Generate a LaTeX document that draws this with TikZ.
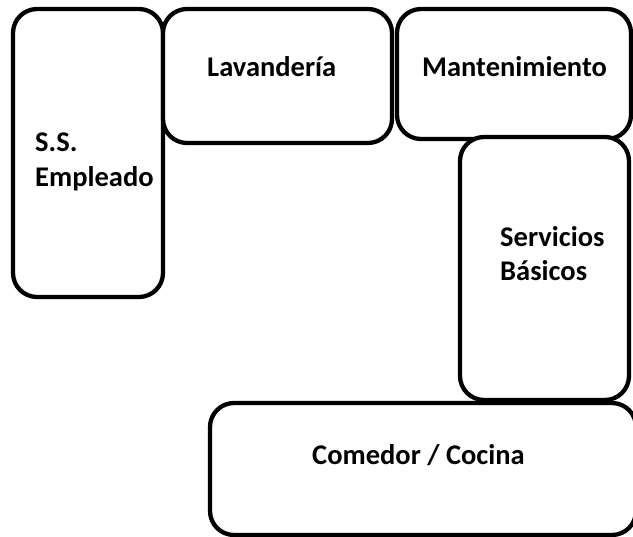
\documentclass[tikz,border=0pt]{standalone}
\usepackage{fontspec}
\setmainfont{Carlito}
\begin{document}
\begin{tikzpicture}[x=1pt,y=-1pt,
  room/.style={draw=black, line width=4.3pt, rounded corners=24pt, fill=white, inner sep=0pt},
  lbl/.style={font=\bfseries\fontsize{28.5}{34}\selectfont, inner sep=0pt, anchor=base west}]
\useasboundingbox (0,0) rectangle (633,537);
\node[room, minimum width=150pt, minimum height=288pt] (emp) at (88,153) {};
\node[room, minimum width=229pt, minimum height=134pt] (lav) at (277.5,76) {};
\node[room, minimum width=234pt, minimum height=130pt] (man) at (514,74) {};
\node[room, minimum width=169pt, minimum height=263pt] (ser) at (544.5,268.5) {};
\node[room, minimum width=426pt, minimum height=132pt] (com) at (423,469) {};
\node[lbl] (empA) at (35,152) {S.S.};
\node[lbl] (empB) at (35,187) {Empleado};
\node[lbl] (lavt) at (207,77) {Lavandería};
\node[lbl] (mant) at (422,77) {Mantenimiento};
\node[lbl] (serA) at (500,247) {Servicios};
\node[lbl] (serB) at (500,281) {Básicos};
\node[lbl] (comt) at (312,465) {Comedor / Cocina};
\end{tikzpicture}
\end{document}
